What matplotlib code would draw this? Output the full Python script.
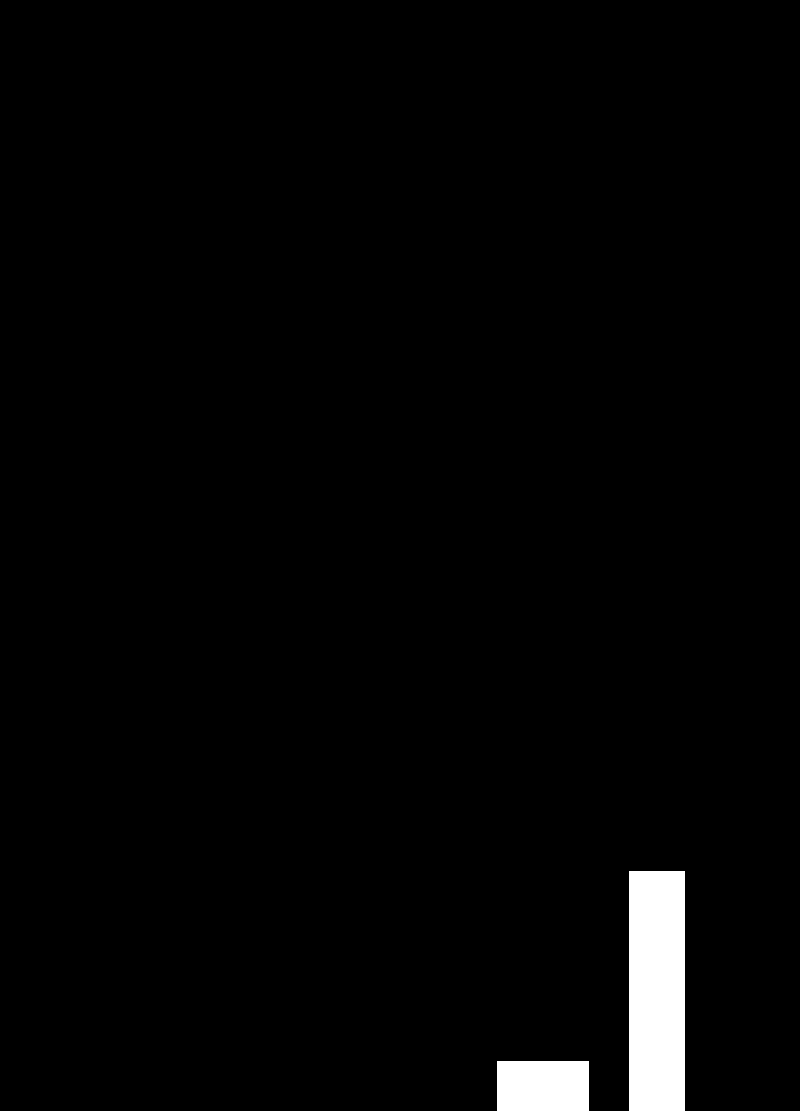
import matplotlib
matplotlib.use("Agg")
import matplotlib.pyplot as plt

# two bars (axis runs 0..100 over full height)
categories = ["A", "B"]
values = [4.5, 21.6]

bar_widths = [0.81, 0.49]

fig = plt.figure(figsize=(8, 11.11), dpi=100, facecolor="black")
ax = fig.add_axes([0, 0, 1, 1])
ax.set_facecolor("black")

ax.bar(range(len(categories)), values, width=bar_widths, color="white",
       edgecolor="none")

ax.set_xlim(-4.763, 2.254)
ax.set_ylim(0, 100)
ax.axis("off")

fig.savefig("out.png", dpi=100, facecolor="black")
